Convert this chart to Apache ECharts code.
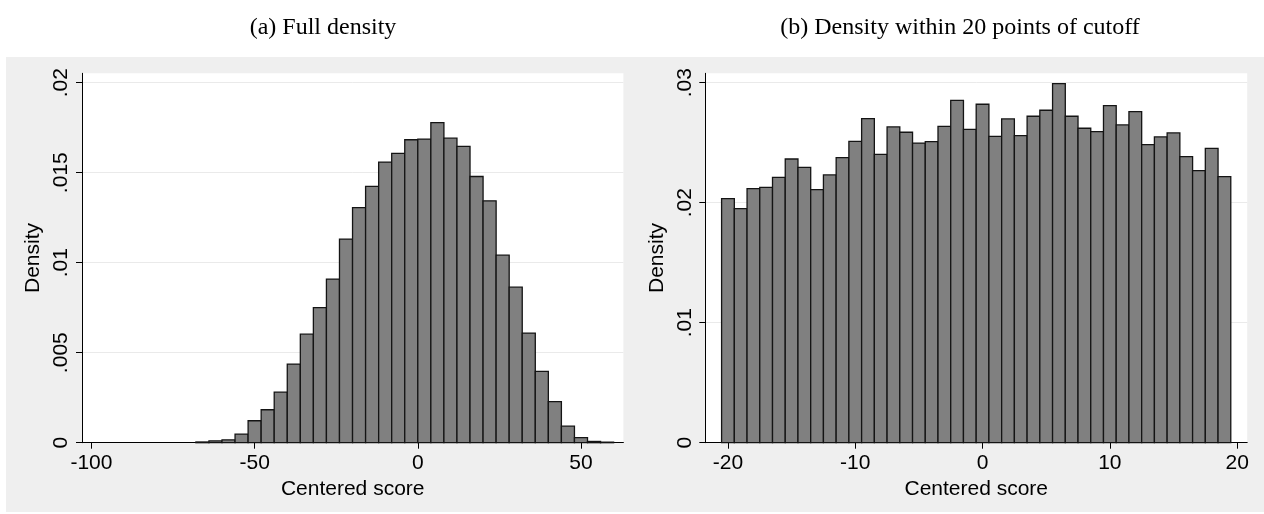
<!DOCTYPE html>
<html><head><meta charset="utf-8">
<script src="https://cdn.jsdelivr.net/npm/echarts@6/dist/echarts.min.js"></script>
<style>html,body{margin:0;padding:0;background:#fff}#c{width:1264px;height:514px}</style>
</head><body><div id="c"></div>
<script>
// Panel (a): bins of width 4 from -68 to 60
const binsA = [-68,-64,-60,-56,-52,-48,-44,-40,-36,-32,-28,-24,-20,-16,-12,-8,-4,0,4,8,12,16,20,24,28,32,36,40,44,48,52,56];
const densA = [0.00004,0.0001,0.00016,0.00048,0.00122,0.00183,0.00281,0.00437,0.00603,0.0075,0.00909,0.01131,0.01306,0.01424,0.01559,0.01607,0.01683,0.01687,0.01778,0.01692,0.01646,0.01479,0.01344,0.01042,0.00864,0.00609,0.00396,0.00228,0.00092,0.00028,0.00007,0.00003];
// Panel (b): bins of width 1 centred on integers -20..19
const binsB = [-20,-19,-18,-17,-16,-15,-14,-13,-12,-11,-10,-9,-8,-7,-6,-5,-4,-3,-2,-1,0,1,2,3,4,5,6,7,8,9,10,11,12,13,14,15,16,17,18,19];
const densB = [0.02033,0.0195,0.02117,0.02128,0.02211,0.02364,0.02294,0.02108,0.02231,0.02375,0.02511,0.027,0.02403,0.02631,0.02587,0.02497,0.02508,0.02636,0.02853,0.02611,0.0282,0.02553,0.02698,0.02558,0.0272,0.0277,0.02992,0.0272,0.0262,0.02592,0.02808,0.02648,0.02758,0.02483,0.02548,0.02581,0.02383,0.02267,0.02453,0.02217];
const xTicksA = [-100,-50,0,50];
const yTicksA = [0,0.005,0.01,0.015,0.02];
const xTicksB = [-20,-10,0,10,20];
const yTicksB = [0,0.01,0.02,0.03];
const titles = ['(a) Full density','(b) Density within 20 points of cutoff'];

const chart = echarts.init(document.getElementById('c'), null, {renderer:'canvas'});
const fmtY = v => v === 0 ? '0' : String(v).replace(/^0\./, '.');
function histItems(bins, dens, lo, hi){
  return bins.map((b,i)=>[b+lo, b+hi, dens[i]]);
}
function renderHist(params, api){
  const s = api.coord([api.value(0), api.value(2)]);
  const e = api.coord([api.value(1), 0]);
  return {type:'rect', shape:{x:s[0], y:s[1], width:e[0]-s[0], height:e[1]-s[1]},
    style:{fill:'#808080', stroke:'#141414', lineWidth:1.3}};
}
const axisText = {color:'#000', fontFamily:'Liberation Sans', fontSize:21};
function xAxisDef(gi, min, max, ticks){
  return {type:'value', gridIndex:gi, min, max,
    name:'Centered score', nameLocation:'middle', nameGap:36,
    nameTextStyle:{...axisText},
    axisLine:{onZero:false, lineStyle:{color:'#000', width:1}},
    axisTick:{customValues:ticks, length:6, lineStyle:{color:'#000'}},
    axisLabel:{customValues:ticks, ...axisText, margin:10},
    splitLine:{show:false}};
}
function yAxisDef(gi, min, max, ticks){
  return {type:'value', gridIndex:gi, min, max,
    name:'Density', nameLocation:'middle', nameGap:38, nameRotate:90,
    nameTextStyle:{...axisText},
    axisLine:{show:true, onZero:false, lineStyle:{color:'#000', width:1}},
    axisTick:{show:true, customValues:ticks, length:6, lineStyle:{color:'#000'}},
    axisLabel:{customValues:ticks, ...axisText, rotate:90, margin:10, formatter:fmtY},
    splitLine:{show:true, customValues:ticks, lineStyle:{color:'#eaeaea', width:1}}};
}
const titleStyle = {fontFamily:'Liberation Serif', fontWeight:'normal', fontSize:24, color:'#000'};
chart.setOption({
  animation:false,
  backgroundColor:'#ffffff',
  graphic:[
    {type:'rect', shape:{x:6, y:57, width:1258, height:455}, style:{fill:'#efefef'}, z:-10}
  ],
  title:[
    {text:titles[0], left:318, top:11, textAlign:'center', textStyle:titleStyle},
    {text:titles[1], left:955, top:11, textAlign:'center', textStyle:titleStyle}
  ],
  grid:[
    {left:82, top:73.3, width:541.4, height:369.4, show:true, backgroundColor:'#fff', borderWidth:0},
    {left:705.3, top:73.3, width:541.9, height:369.4, show:true, backgroundColor:'#fff', borderWidth:0}
  ],
  xAxis:[
    xAxisDef(0, -102.9, 63.0, xTicksA),
    xAxisDef(1, -21.78, 20.79, xTicksB)
  ],
  yAxis:[
    yAxisDef(0, 0, 0.020522, yTicksA),
    yAxisDef(1, 0, 0.03078, yTicksB)
  ],
  series:[
    {type:'custom', xAxisIndex:0, yAxisIndex:0, data:histItems(binsA, densA, 0, 4), renderItem:renderHist, encode:{x:[0,1], y:2}},
    {type:'custom', xAxisIndex:1, yAxisIndex:1, data:histItems(binsB, densB, -0.5, 0.5), renderItem:renderHist, encode:{x:[0,1], y:2}}
  ]
});
</script></body></html>
